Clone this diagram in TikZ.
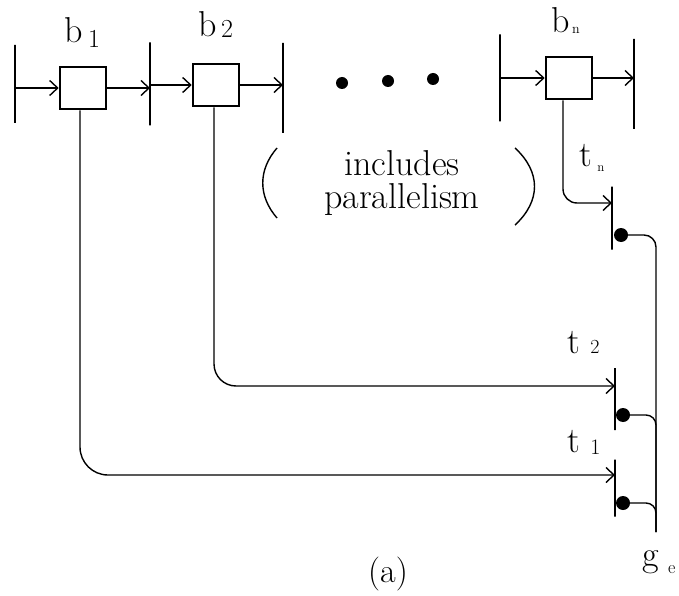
\documentclass[tikz,border=0pt]{standalone}
\usepackage{fontspec}
\usetikzlibrary{arrows.meta, positioning, calc}

\begin{document}
\begin{tikzpicture}[x=1pt, y=-1pt, >={Straight Barb[length=8pt, width=15pt]},
    line width=1.4pt,
    blockbox/.style={draw, line width=2.6pt, minimum width=46pt, minimum height=42pt, inner sep=0pt},
    bar/.style={draw, line width=1.6pt, minimum width=0pt, inner sep=0pt},
    tdot/.style={circle, fill, minimum size=14pt, inner sep=0pt},
    lbl/.style={anchor=base west, inner sep=0pt, font=\fontsize{36}{33}\selectfont}]

  \useasboundingbox (0,0) rectangle (679,596);

  % The blocks b_1, b_2, ..., b_n.
  \node[blockbox] (b1) at (83,88) {};
  \node[blockbox] (b2) at (216,85) {};
  \node[blockbox] (bn) at (569,78) {};

  % Boundaries between the blocks.
  \node[bar, minimum height=78pt] (s0) at (15,84) {};
  \node[bar, minimum height=83pt] (s1) at (150,84) {};
  \node[bar, minimum height=90pt] (s2) at (283,88) {};
  \node[bar, minimum height=87pt] (s3) at (500,78) {};
  \node[bar, minimum height=90pt] (s4) at (634,84) {};

  \draw[->] (s0 |- b1.west) -- (b1.west);
  \draw[->] (b1.east) -- (b1.east -| s1);
  \draw[->] (s1 |- b2.west) -- (b2.west);
  \draw[->] (b2.east) -- (b2.east -| s2);
  \draw[->] (s3 |- bn.west) -- (bn.west);
  \draw[->] (bn.east) -- (bn.east -| s4);

  \foreach \x/\y in {342/83, 388/81, 433/79}
    \fill (\x,\y) circle[radius=6pt];

  % Block labels.
  \node[lbl] (lb1) at (64,43) {b\hspace{5pt}\raisebox{-5pt}{\fontsize{26}{26}\selectfont 1}};
  \node[lbl] (lb2) at (198,37) {b\hspace{4pt}\raisebox{-1pt}{\fontsize{26}{26}\selectfont 2}};
  \node[lbl] (lbn) at (551,33) {b\hspace{2pt}\raisebox{-1pt}{\fontsize{14}{14}\selectfont n}};

  % The remark in parentheses.
  \node[font=\fontsize{36}{33}\selectfont, align=center] (par) at (402,183) {includes\\parallelism};
  \draw (277,148) .. controls (258,170) and (258,196) .. (277,218);
  \draw (515,148) .. controls (541,172) and (541,201) .. (515,225);

  % Termination points t_n, t_2, t_1 and the join g_e.
  \node[bar, minimum height=63pt] (en) at (612,218) {};
  \node[bar, minimum height=62pt] (e2) at (615,399) {};
  \node[bar, minimum height=57pt] (e1) at (615,488) {};
  \node[tdot] (dn) at (621,235) {};
  \node[tdot] (d2) at (623,415) {};
  \node[tdot] (d1) at (623,503) {};
  \coordinate (gend) at (656,532);

  \draw[rounded corners=12pt] (dn.center) -| (gend);
  \draw[rounded corners=10pt] (d2.center) -| (gend);
  \draw[rounded corners=10pt] (d1.center) -| (gend);

  \draw[->, rounded corners=14pt] ([xshift=-6pt]bn.south) |- ([yshift=15pt]en.center);
  \draw[->, rounded corners=22pt] ([xshift=-2pt]b2.south) |- ([yshift=13pt]e2.center);
  \draw[->, rounded corners=28pt] ([xshift=-3pt]b1.south) |- ([yshift=13pt]e1.center);

  \node[lbl] (ltn) at (579,167) {t\hspace{5pt}\raisebox{-5pt}{\fontsize{13}{13}\selectfont n}};
  \node[lbl] (lt2) at (567,353) {t\hspace{10pt}\raisebox{0pt}{\fontsize{20}{20}\selectfont 2}};
  \node[lbl] (lt1) at (567,452) {t\hspace{10pt}\raisebox{-2pt}{\fontsize{22}{22}\selectfont 1}};
  \node[lbl] (lge) at (642,566) {g\hspace{9pt}\raisebox{-7pt}{\fontsize{18}{18}\selectfont e}};

  \node[font=\fontsize{34}{34}\selectfont, anchor=base] (cap) at (388,582) {(a)};
\end{tikzpicture}
\end{document}
